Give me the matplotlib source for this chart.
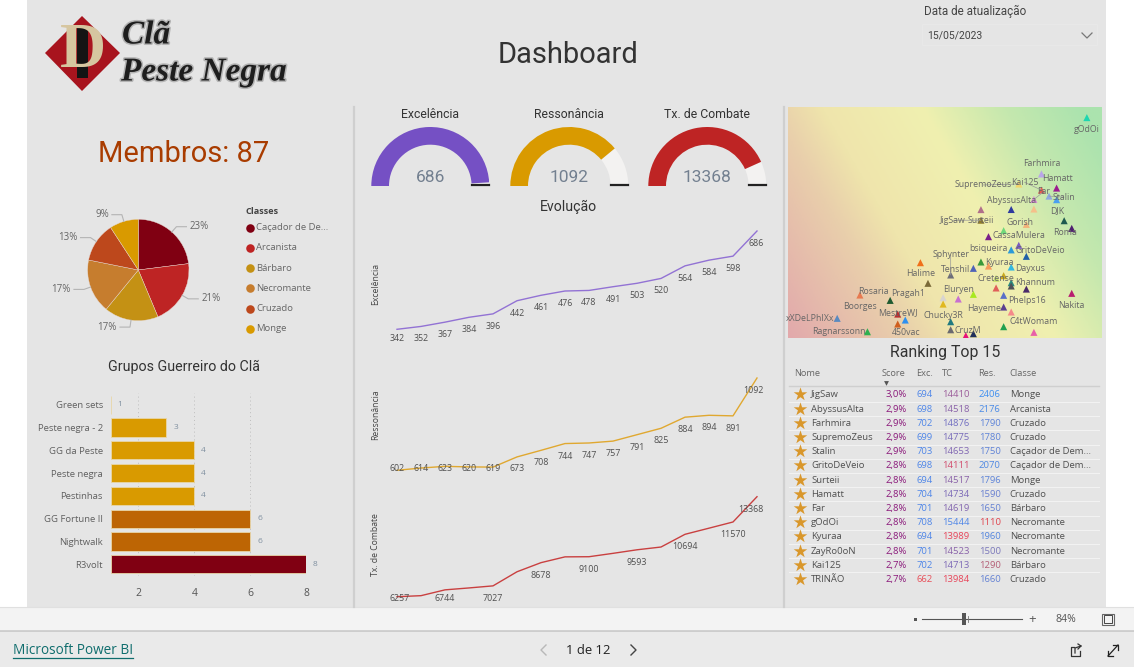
import matplotlib
matplotlib.use("Agg")
import matplotlib.pyplot as plt
import matplotlib.patheffects as pe
import numpy as np
from matplotlib.colors import LinearSegmentedColormap, Normalize
from matplotlib.patches import Wedge, Polygon, Rectangle

W, H = 1134, 667
BODY = "Open Sans"
HEAD = "Roboto"

# gauges
gauge_names = ["Excelência", "Ressonância", "Tx. de Combate"]
gauge_values = [686, 1092, 13368]
gauge_max = [700, 1400, 15444]
gauge_colors = ["#7550C4", "#D99A00", "#BE2424"]

# pie
classes = ["Caçador de De...", "Arcanista", "Bárbaro", "Necromante", "Cruzado", "Monge"]
class_counts = [20, 18, 15, 15, 11, 8]
class_colors = ["#800012", "#BE2424", "#C49114", "#C67D2E", "#BD481C", "#D99A00"]

# groups
groups = ["Green sets", "Peste negra - 2", "GG da Peste", "Peste negra", "Pestinhas",
          "GG Fortune II", "Nightwalk", "R3volt"]
group_values = [1, 3, 4, 4, 4, 6, 6, 8]
group_colors = ["#D99A00", "#D99A00", "#D99A00", "#D99A00", "#D99A00", "#BD6504", "#BD6504", "#800012"]

# evolution lines
exc_values = [342, 352, 367, 384, 396, 442, 461, 476, 478, 491, 503, 520, 564, 584, 598, 686]
res_values = [602, 614, 623, 620, 619, 673, 708, 744, 747, 757, 791, 825, 884, 894, 891, 1092]
tc_values = [6257, 6330, 6744, 6880, 7027, 8030, 8678, 9090, 9100, 9340, 9593, 9790, 10694, 11130, 11570, 13368]
tc_labelled = [0, 2, 4, 6, 8, 10, 12, 14, 15]

# scatter: excelencia x taxa de combate
sc_names = ["gOdOi", "Farhmira", "Hamatt", "SupremoZeus", "Kai125", "Stalin", "Far", "", "ZayRo0oN",
            "AbyssusAlta", "Surteii", "JigSaw", "Gorish", "DJK", "Roma", "CassaMulera", "bsiqueira", "",
            "GritoDeVeio", "", "Sphynter", "Tenshil", "Kyuraa", "", "Dayxus", "Cretense", "",
            "Khannum", "", "", "", "Halime", "Pragah1", "Boorges", "Rosaria", "MestreWJ", "",
            "Eluryen", "", "", "Chucky3R", "Hayeme", "Phelps16", "", "C4tWomam", "Nakita", "",
            "xXDeLPhIXx", "Ragnarssonn", "450vac", "CruzM", "", "", ""]
sc_exc = [708, 702, 704, 699, 702, 703, 701, 704, 701,
          698, 694, 694, 700, 705, 706, 697, 695, 699,
          698, 700, 690, 693, 694, 695, 698, 696, 697,
          698, 698, 700, 696, 686, 687, 678, 682, 683, 684,
          691, 689, 693, 689, 697, 697, 698, 697, 706, 701,
          675, 679, 683, 690, 690, 692, 693]
sc_tc = [15444, 14876, 14734, 14775, 14713, 14653, 14619, 14617, 14523,
         14518, 14517, 14410, 14368, 14405, 14328, 14305, 14244, 14157,
         14111, 14046, 13858, 13925, 13989, 13948, 13938, 13824, 13851,
         13780, 13747, 13716, 13727, 13982, 13774, 13656, 13602, 13464, 13404,
         13616, 13629, 13663, 13565, 13535, 13653, 13485, 13337, 13673, 13280,
         13421, 13286, 13364, 13306, 13387, 13246, 13266]
sc_colors = ["#1ED6B0", "#B9A6E8", "#9B1B8E", "#F2D56B", "#E85A4F", "#8FA8E0", "#D88AD8", "#4A9FF0", "#F5C08A",
             "#2E3A9E", "#B0708A", "#8F7A2A", "#F2B27A", "#1F5A50", "#4F2070", "#6FD87A", "#7A1F8A", "#7A5CC0",
             "#2C9AD8", "#1F5FA8", "#6E6E78", "#4F62B8", "#3A9A3A", "#F59A5A", "#35B8E0", "#C8E070", "#C8A820",
             "#2A8A80", "#505058", "#4A2A6A", "#E0605A", "#F0701A", "#7A6A38", "#E87A50", "#1F5A30", "#B83030", "#2E90F0",
             "#C870D0", "#D8D4D0", "#A8E820", "#E0B820", "#5A3F90", "#5A70C8", "#F58A8A", "#20A050", "#B81F70", "#E860A8",
             "#5A8AC0", "#30B050", "#D0601F", "#6A6A70", "#207A80", "#E8107A", "#1F2F5A"]
# label offset from marker, pixels
sc_offsets = {"gOdOi": (0, 12), "Farhmira": (0, -10), "Hamatt": (1, -10), "SupremoZeus": (-36, 1), "Kai125": (-17, -8),
              "Stalin": (15, 1), "Far": (10, -8), "AbyssusAlta": (0, -9), "Surteii": (0, 11), "JigSaw": (-28, 0),
              "Gorish": (-6, -2), "DJK": (-7, -10), "Roma": (-7, 4), "CassaMulera": (15, 5), "bsiqueira": (0, 12),
              "GritoDeVeio": (29, 1), "Sphynter": (0, -20), "Tenshil": (-18, 1), "Kyuraa": (18, 1), "Dayxus": (19, 1),
              "Cretense": (0, 0), "Khannum": (24, 0), "Halime": (0, 11), "Rosaria": (-17, -9), "Pragah1": (-20, 10),
              "Boorges": (0, 11), "MestreWJ": (0, -1), "Eluryen": (0, -10), "Chucky3R": (0, 11), "Hayeme": (-20, 1),
              "Phelps16": (23, 5), "C4tWomam": (30, -5), "Nakita": (0, 12), "xXDeLPhIXx": (-27, 0),
              "Ragnarssonn": (-29, 0), "450vac": (8, 8), "CruzM": (17, 1)}
sc_leaders = ["Sphynter", "SupremoZeus", "JigSaw", "Far", "Stalin", "Kai125"]

# ranking table
rank_names = ["JigSaw", "AbyssusAlta", "Farhmira", "SupremoZeus", "Stalin", "GritoDeVeio", "Surteii",
              "Hamatt", "Far", "gOdOi", "Kyuraa", "ZayRo0oN", "Kai125", "TRINÃO"]
rank_score = ["3,0%", "2,9%", "2,9%", "2,9%", "2,9%", "2,8%", "2,8%", "2,8%", "2,8%", "2,8%", "2,8%", "2,8%", "2,7%", "2,7%"]
rank_exc = [694, 698, 702, 699, 703, 698, 694, 704, 701, 708, 694, 701, 702, 662]
rank_tc = [14410, 14518, 14876, 14775, 14653, 14111, 14517, 14734, 14619, 15444, 13989, 14523, 14713, 13984]
rank_res = [2406, 2176, 1790, 1780, 1750, 2070, 1796, 1590, 1650, 1110, 1960, 1500, 1290, 1660]
rank_class = ["Monge", "Arcanista", "Cruzado", "Cruzado", "Caçador de Dem...", "Caçador de Dem...", "Monge",
              "Cruzado", "Bárbaro", "Necromante", "Necromante", "Necromante", "Bárbaro", "Cruzado"]

fig = plt.figure(figsize=(W / 100, H / 100), dpi=100, facecolor="white")


def px_axes(x0, y0, x1, y1, zorder=2):
    ax = fig.add_axes([x0 / W, 1 - y1 / H, (x1 - x0) / W, (y1 - y0) / H], zorder=zorder)
    ax.patch.set_alpha(0)
    return ax


page = px_axes(0, 0, W, H, zorder=0)
page.set_xlim(0, W)
page.set_ylim(H, 0)
page.axis("off")


def txt(x, y, s, size=7, color="#555555", ha="left", va="center", family=BODY, **kw):
    return page.text(x, y, s, fontsize=size, color=color, ha=ha, va=va, family=family, **kw)


# page chrome
page.add_patch(Rectangle((27, 0), 1079, 607, color="#E5E5E5", lw=0))
page.add_patch(Rectangle((0, 607), W, 23, color="#F3F3F3", lw=0))
page.add_patch(Rectangle((0, 631), W, 36, color="#EAEAEA", lw=0))
page.plot([0, W], [630.5, 630.5], color="#C8C8C8", lw=1.2)
page.plot([0, W], [607, 607], color="#E0E0E0", lw=0.8)
page.plot([354, 354], [107, 607], color="#CFCFCF", lw=1.6)
page.plot([784, 784], [107, 607], color="#CFCFCF", lw=1.6)

# logo
shadow = [pe.withStroke(linewidth=2.2, foreground="#B4B4B4")]
page.add_patch(Polygon([(82, 16), (120, 53), (82, 91), (45, 53)], color="#A8141E", lw=0))
page.add_patch(Rectangle((77, 28), 11, 50, color="#141414", lw=0))
txt(83, 52, "D", size=46, color="#D6C6A0", ha="center", family="Liberation Serif", weight="bold")
txt(122, 35, "Clã", size=24, color="#1E1E1E", family="Liberation Serif", style="italic", weight="bold",
    path_effects=shadow)
txt(121, 72, "Peste Negra", size=24, color="#1E1E1E", family="Liberation Serif", style="italic", weight="bold",
    path_effects=shadow)

txt(568, 55, "Dashboard", size=21, color="#333333", ha="center", family=HEAD)
txt(924.5, 11, "Data de atualização", size=8.4, color="#444444", family=HEAD)
txt(927, 35.5, "15/05/2023", size=7.5, color="#444444", family=HEAD)
page.plot([1082, 1087, 1092], [33, 38, 33], color="#777777", lw=0.9)
page.add_patch(Rectangle((922, 24), 175, 21, fill=False, ec="#E8E8E8", lw=0.8))
txt(184, 154, "Membros: 87", size=21, color="#A93C00", ha="center", family=HEAD)

# gauges
for name, val, top, col, cx in zip(gauge_names, gauge_values, gauge_max, gauge_colors, [430.3, 569.3, 707.3]):
    ax = px_axes(cx - 59, 127, cx + 59, 186)
    ax.set_xlim(-1, 1)
    ax.set_ylim(0, 1)
    ax.axis("off")
    split = 180 * (1 - val / top)
    ax.add_patch(Wedge((0, 0), 1, 0, split, width=0.3, color="#F3F2F1", lw=0))
    ax.add_patch(Wedge((0, 0), 1, split, 180, width=0.3, color=col, lw=0))
    ax.plot([0.7, 1], [0.01, 0.01], color="#222222", lw=1.6, clip_on=False)
    ax.text(0, 0.145, str(val), ha="center", va="center", fontsize=12.5, color="#738090", family=HEAD)
    txt(cx, 114.5, name, size=8.8, color="#333333", ha="center", family=HEAD)

# pie
ax = px_axes(138.3 - 50.7, 270 - 50.7, 138.3 + 50.7, 270 + 50.7)
wedges, _ = ax.pie(class_counts, colors=class_colors, startangle=90, counterclock=False, radius=1,
                   wedgeprops={"edgecolor": "#E8D8D0", "linewidth": 0.3})
ax.set_xlim(-1, 1)
ax.set_ylim(-1, 1)
total = sum(class_counts)
for w, n in zip(wedges, class_counts):
    a = np.deg2rad((w.theta1 + w.theta2) / 2)
    r_rim, r_elbow = 1.0, 1.0 + 7 / 50.7
    side = 1 if np.cos(a) > 0 else -1
    xe, ye = r_elbow * np.cos(a), r_elbow * np.sin(a)
    xh = xe + side * 10 / 50.7
    ax.plot([r_rim * np.cos(a), xe, xh], [r_rim * np.sin(a), ye, ye], color="#B4B4B4", lw=0.8, clip_on=False)
    ax.text(xh + side * 3 / 50.7, ye, f"{100 * n / total:.0f}%", ha="left" if side > 0 else "right", va="center",
            fontsize=7, color="#666666", family=BODY)

txt(245, 211, "Classes", size=6.6, color="#444444", weight="bold")
for i, (c, col) in enumerate(zip(classes, class_colors)):
    y = 227.7 + i * 20.2
    page.scatter([249.7], [y], s=38, color=col, lw=0, zorder=3)
    txt(256, y, c, size=6.8, color="#666666")

# bars
txt(184, 367, "Grupos Guerreiro do Clã", size=10.3, color="#333333", ha="center", family=HEAD)
ax = px_axes(110.5, 393.3, 306, 575.7)
pos = np.arange(len(groups))
ax.barh(pos, [v - 1 for v in group_values], left=1, height=0.8, color=group_colors, edgecolor="#E8D6A8", lw=0.6, zorder=2)
ax.set_xlim(1, 8)
ax.set_ylim(7.5, -0.5)
ax.set_yticks(pos, groups, fontsize=6.8, color="#606060", family=BODY)
ax.set_xticks([2, 4, 6, 8], ["2", "4", "6", "8"], fontsize=7.5, color="#555555", family=BODY)
ax.tick_params(length=0)
ax.tick_params(axis="y", pad=5.5)
ax.tick_params(axis="x", pad=9.2)
ax.grid(axis="x", color="#BDBDBD", lw=0.7, ls=(0, (1, 3)), zorder=0)
for s in ax.spines.values():
    s.set_visible(False)
for i, v in enumerate(group_values):
    ax.annotate(str(v), (v, i), xytext=(5, 0), textcoords="offset points", va="center", fontsize=6,
                color="#8090A0", family=BODY, annotation_clip=False)


# evolution
def draw_trend(values, color, y_top, y_bottom, floor_y, keep=None):
    ax = px_axes(397, y_top, 757, y_bottom)
    lo, hi = min(values), max(values)
    ax.set_xlim(0, 15)
    ax.set_ylim(lo, hi)
    ax.axis("off")
    ax.plot(range(16), values, color=color, lw=1.0, clip_on=False)
    for i, v in enumerate(values):
        if keep is not None and i not in keep:
            continue
        line_y = y_bottom - (v - lo) / (hi - lo) * (y_bottom - y_top)
        dy = min(line_y + 12.5, floor_y) - line_y
        ha, dx = "center", 0
        if i == 0:
            ha, dx = "left", -7
        elif i == 15:
            ha, dx = "right", 7
        ax.annotate(str(v), (i, v), xytext=(dx * 0.72, -dy * 0.72), textcoords="offset points", ha=ha, va="center",
                    fontsize=6.4, color="#505050", family=BODY, annotation_clip=False)


txt(568, 207, "Evolução", size=10.2, color="#333333", ha="center", family=HEAD)
draw_trend(exc_values, "#9272D4", 231, 329.3, 338.7)
draw_trend(res_values, "#E0A830", 378, 470.3, 468.7)
draw_trend(tc_values, "#C94040", 496.7, 596.7, 598.7, keep=tc_labelled)
txt(376, 284, "Excelência", size=6.2, color="#444444", ha="center", rotation=90)
txt(376, 415, "Ressonância", size=6.2, color="#444444", ha="center", rotation=90)
txt(376, 545, "Tx. de Combate", size=6.2, color="#444444", ha="center", rotation=90)

# scatter
ax = px_axes(788, 107, 1102, 337.7)
ax.set_xticks([])
ax.set_yticks([])
for s in ax.spines.values():
    s.set_visible(False)
u, v = np.meshgrid(np.linspace(0, 1, 200), np.linspace(0, 1, 150))
t = 941 * u - 0.58 * 692 * v - 400
stops = [(-801, "#E2A9AB"), (-450, "#E9CFAB"), (-300, "#EFE5AC"), (0, "#F0F0B0"), (250, "#C5E8AE"), (480, "#ABE3AE"), (541, "#ABE3AE")]
bg_cmap = LinearSegmentedColormap.from_list("bg", [((p + 801) / 1342, c) for p, c in stops])
ax.imshow(t, cmap=bg_cmap, vmin=-801, vmax=541, extent=(668.5, 710, 13226, 15551), origin="upper", aspect="auto", zorder=0)
ax.scatter(sc_exc, sc_tc, marker="^", s=26, c=sc_colors, lw=0, zorder=2)
ax.set_xlim(668.5, 710)
ax.set_ylim(13226, 15551)
for name, x, y in zip(sc_names, sc_exc, sc_tc):
    if name not in sc_offsets:
        continue
    dx, dy = sc_offsets[name]
    if name in sc_leaders:
        ax.annotate("", (x, y), xytext=(dx * 0.72, -dy * 0.72), textcoords="offset points",
                    arrowprops={"arrowstyle": "-", "color": "#999999", "lw": 0.5, "shrinkA": 0, "shrinkB": 0})
    ax.annotate(name, (x, y), xytext=(dx * 0.72, -dy * 0.72), textcoords="offset points", ha="center", va="center",
                fontsize=6.3, color="#666666", family=BODY, zorder=3)

# ranking
txt(945, 352, "Ranking Top 15", size=11.4, color="#333333", ha="center", family=HEAD)
head_y = 373.7
for label, x in [("Nome", 794), ("Score", 882), ("Exc.", 916), ("TC", 942), ("Res.", 978.5), ("Classe", 1009.7)]:
    txt(x, head_y, label, size=6.7, color="#666666")
page.scatter([885.5], [382.5], marker="v", s=12, color="#555555", lw=0)
page.plot([789, 1099], [386.3, 386.3], color="#CFCFCF", lw=1)

exc_cmap = LinearSegmentedColormap.from_list("e", ["#E8505A", "#4F86E8"])
tc_cmap = LinearSegmentedColormap.from_list("t", [(0, "#E8455A"), (0.35, "#8C62A8"), (1, "#4F86E8")])
res_cmap = LinearSegmentedColormap.from_list("r", [(0, "#E0454F"), (0.15, "#B0607A"), (0.35, "#6A80D0"), (1, "#3F8FF0")])
exc_norm = Normalize(662, 694)
tc_norm = Normalize(13984, 15444)
res_norm = Normalize(1110, 2406)
rows = zip(rank_names, rank_score, rank_exc, rank_tc, rank_res, rank_class)
for i, (name, score, e, tc, res, cl) in enumerate(rows):
    y = 394.9 + i * 14.2
    page.scatter([799.7], [y - 0.5], marker="*", s=105, color="#D9972B", lw=0, zorder=3)
    txt(811, y, name, size=6.8, color="#505050")
    txt(907, y, score, size=6.8, color="#8B1A7B", ha="right")
    txt(933, y, str(e), size=6.8, color=exc_cmap(exc_norm(e)), ha="right")
    txt(969.3, y, str(tc), size=6.8, color=tc_cmap(tc_norm(tc)), ha="right")
    txt(1000.7, y, str(res), size=6.8, color=res_cmap(res_norm(res)), ha="right")
    txt(1009.7, y, cl, size=6.8, color="#505050")
    if i < len(rank_names) - 1:
        page.plot([789, 1099], [y + 7.1, y + 7.1], color="#F2F2F2", lw=0.8)

# footer
txt(13, 651, "Microsoft Power BI", size=9.8, color="#0F6D6D")
page.plot([13, 133], [658, 658], color="#0F6D6D", lw=0.9)
txt(588, 650, "1 de 12", size=9.4, color="#222222", ha="center")
page.plot([546, 541, 546], [645, 650, 655], color="#B8B8B8", lw=1)
page.plot([631, 636, 631], [645, 650, 655], color="#444444", lw=1)
page.add_patch(Rectangle((914, 617.5), 3, 3, color="#555555", lw=0))
page.plot([922, 1022], [619, 619], color="#555555", lw=0.8)
page.add_patch(Rectangle((962, 613), 3.5, 12, color="#555555", lw=0))
page.plot([968, 968], [616, 622], color="#777777", lw=0.6)
txt(1032, 619, "+", size=9.5, color="#555555", ha="center")
txt(1066, 619, "84%", size=7.6, color="#555555", ha="center")
page.add_patch(Rectangle((1104, 615), 8, 8, fill=False, ec="#444444", lw=0.7))
page.add_patch(Rectangle((1102, 613.5), 12, 11, fill=False, ec="#666666", lw=0.8))
# share / expand icons
page.plot([1074, 1071, 1071, 1080, 1080], [647, 647, 656, 656, 651], color="#333333", lw=0.9)
page.plot([1075, 1075, 1081], [653, 648, 646], color="#333333", lw=0.9)
page.plot([1078, 1081, 1078], [644, 646, 649], color="#333333", lw=0.9)
page.plot([1108, 1118], [656, 645], color="#222222", lw=0.9)
page.plot([1113, 1118, 1118], [645, 645, 650], color="#222222", lw=0.9)
page.plot([1108, 1108, 1113], [651, 656, 656], color="#222222", lw=0.9)

fig.savefig("out.png", dpi=100, facecolor="white")
